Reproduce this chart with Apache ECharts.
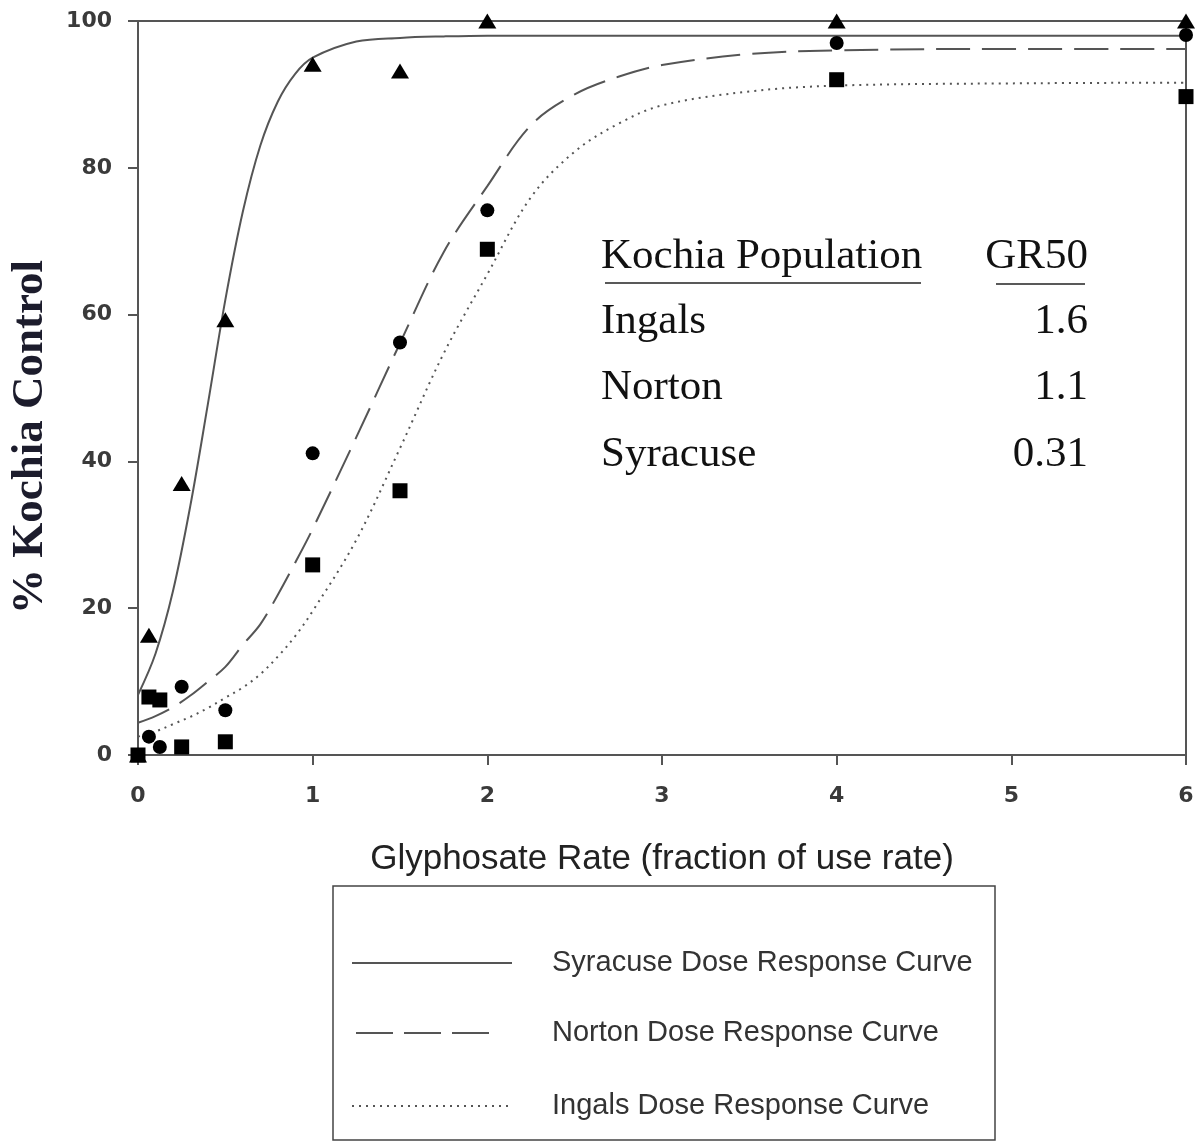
<!DOCTYPE html>
<html>
<head>
<meta charset="utf-8">
<script src="https://cdn.jsdelivr.net/npm/echarts@6/dist/echarts.min.js"></script>
<style>
html,body{margin:0;padding:0;background:#fff;}
#chart{width:1202px;height:1143px;}
</style>
</head>
<body>
<div id="chart"></div>
<script>
// Observed data (dose as fraction of use rate)
const doseX = [0, 0.0625, 0.125, 0.25, 0.5, 1, 1.5, 2, 4, 6];
const syracuseObs = [0, 16.3, null, 37, 59.3, 94.1, 93.2, 100, 100, 100];
const nortonObs   = [0, 2.5, 1.1, 9.3, 6.1, 41.1, 56.2, 74.2, 97.0, 98.1];
const ingalsObs   = [0, 7.9, 7.5, 1.1, 1.8, 25.9, 36.0, 68.9, 92.0, 89.7];

// Fitted dose-response curves
const curveX = [0, 0.1, 0.2, 0.3, 0.4, 0.5, 0.6, 0.7, 0.8, 0.9, 1.0, 1.25, 1.5, 1.75, 2, 2.25, 2.5, 2.75, 3, 3.5, 4, 5, 6];
const syracuseCurve = [8.2, 13.8, 22.3, 34, 47.8, 62, 74, 83, 89, 92.8, 95, 97.2, 97.7, 97.9, 98, 98, 98, 98, 98, 98, 98, 98, 98];
const nortonCurve   = [4.4, 5.3, 6.5, 8.1, 10, 12, 15, 17.8, 21.8, 26.2, 30.8, 43.3, 56.1, 68.5, 77.5, 85.8, 90, 92.4, 94, 95.5, 96, 96.2, 96.2];
const ingalsCurve   = [2.5, 3.2, 4.2, 5.2, 6.4, 7.8, 9.2, 11, 13.4, 16.2, 19.6, 29.3, 41.8, 54.7, 65.5, 76, 82.2, 86, 88.5, 90.4, 91.2, 91.5, 91.6];

// Text
const xTicks = [0, 1, 2, 3, 4, 5, 6];
const yTicks = [0, 20, 40, 60, 80, 100];
const xTitle = 'Glyphosate Rate (fraction of use rate)';
const yTitle = '% Kochia Control';
const tableHeader = ['Kochia Population', 'GR50'];
const tablePops = ['Ingals', 'Norton', 'Syracuse'];
const tableGR50 = ['1.6', '1.1', '0.31'];
const legendNames = ['Syracuse Dose Response Curve', 'Norton Dose Response Curve', 'Ingals Dose Response Curve'];

const pair = (xs, ys) => xs.map((x, i) => [x, ys[i]]).filter(p => p[1] !== null);

const chart = echarts.init(document.getElementById('chart'));
const axisColor = '#555';
const lineColor = '#555';

const curveSeries = (name, ys, type) => ({
  name, type: 'line', data: pair(curveX, ys), showSymbol: false, symbol: 'none',
  smooth: 0.35,
  lineStyle: { color: lineColor, width: 2, type: type }, z: 2, silent: true
});
const pointSeries = (name, ys, symbol, size) => ({
  name, type: 'scatter', data: pair(doseX, ys), symbol, symbolSize: size,
  itemStyle: { color: '#000', opacity: 1 }, z: 5
});

// Legend graphic
const legX = 333, legY = 886, legW = 662, legH = 254;
const legRows = [963, 1033, 1106];
const legendGraphic = [
  { type: 'rect', shape: { x: legX, y: legY, width: legW, height: legH },
    style: { fill: 'none', stroke: '#444', lineWidth: 1.5 } },
  { type: 'line', shape: { x1: 352, y1: legRows[0], x2: 512, y2: legRows[0] },
    style: { stroke: lineColor, lineWidth: 2 } },
  { type: 'line', shape: { x1: 356, y1: legRows[1], x2: 498, y2: legRows[1] },
    style: { stroke: lineColor, lineWidth: 2, lineDash: [37, 11] } },
  { type: 'line', shape: { x1: 352, y1: legRows[2], x2: 512, y2: legRows[2] },
    style: { stroke: lineColor, lineWidth: 2, lineDash: [2, 5] } }
].concat(legendNames.map((t, i) => ({
  type: 'text', x: 552, y: legRows[i],
  style: { text: t, font: '29px "Liberation Sans", Arial, sans-serif', fill: '#333', textVerticalAlign: 'middle' }
})));

// GR50 table graphic
const tblFont = '43px "Liberation Serif", "Times New Roman", serif';
const tblRows = [322, 388, 455];
const tableGraphic = [
  { type: 'text', x: 601, y: 257, style: { text: tableHeader[0], font: tblFont, fill: '#111', textVerticalAlign: 'middle' } },
  { type: 'text', x: 1088, y: 257, style: { text: tableHeader[1], font: tblFont, fill: '#111', textAlign: 'right', textVerticalAlign: 'middle' } },
  { type: 'line', shape: { x1: 605, y1: 283, x2: 921, y2: 283 }, style: { stroke: '#222', lineWidth: 1.5 } },
  { type: 'line', shape: { x1: 996, y1: 284, x2: 1085, y2: 284 }, style: { stroke: '#222', lineWidth: 1.5 } }
].concat(tablePops.map((t, i) => ({
  type: 'text', x: 601, y: tblRows[i], style: { text: t, font: tblFont, fill: '#111', textVerticalAlign: 'middle' }
}))).concat(tableGR50.map((t, i) => ({
  type: 'text', x: 1088, y: tblRows[i], style: { text: t, font: tblFont, fill: '#111', textAlign: 'right', textVerticalAlign: 'middle' }
})));

// Y-axis title (placed as in the reference, below the axis middle)
const yTitleGraphic = [{
  type: 'text', x: 30, y: 437, rotation: Math.PI / 2,
  style: { text: yTitle, font: 'bold 45px "Liberation Serif", "Times New Roman", serif', fill: '#1c1c2c',
           textAlign: 'center', textVerticalAlign: 'middle' }
}];

chart.setOption({
  backgroundColor: '#fff',
  animation: false,
  grid: { left: 138, top: 21, right: 16, bottom: 388, show: true, borderColor: axisColor, borderWidth: 2, containLabel: false },
  xAxis: {
    type: 'value', min: xTicks[0], max: xTicks[xTicks.length - 1], interval: 1,
    axisLine: { show: true, onZero: false, lineStyle: { color: axisColor, width: 2 } },
    axisTick: { show: true, inside: false, length: 10, lineStyle: { color: axisColor, width: 2 } },
    splitLine: { show: false },
    axisLabel: { margin: 30, color: '#3a3a3a', fontSize: 22, fontWeight: 'bold', fontFamily: '"DejaVu Sans", sans-serif' },
    name: xTitle, nameLocation: 'middle', nameGap: 104,
    nameTextStyle: { fontSize: 35, color: '#222', fontFamily: '"Liberation Sans", Arial, sans-serif', verticalAlign: 'middle' }
  },
  yAxis: {
    type: 'value', min: yTicks[0], max: yTicks[yTicks.length - 1], interval: 20,
    axisLine: { show: true, onZero: false, lineStyle: { color: axisColor, width: 2 } },
    axisTick: { show: true, inside: false, length: 10, lineStyle: { color: axisColor, width: 2 } },
    splitLine: { show: false },
    axisLabel: { margin: 26, color: '#3a3a3a', fontSize: 22, fontWeight: 'bold', fontFamily: '"DejaVu Sans", sans-serif' }
  },
  series: [
    curveSeries('Syracuse Dose Response Curve', syracuseCurve, 'solid'),
    curveSeries('Norton Dose Response Curve', nortonCurve, [34, 12]),
    curveSeries('Ingals Dose Response Curve', ingalsCurve, [2, 5]),
    pointSeries('Syracuse', syracuseObs, 'triangle', [18, 15]),
    pointSeries('Norton', nortonObs, 'circle', 14),
    pointSeries('Ingals', ingalsObs, 'rect', 15)
  ],
  graphic: legendGraphic.concat(tableGraphic).concat(yTitleGraphic)
});
</script>
</body>
</html>
